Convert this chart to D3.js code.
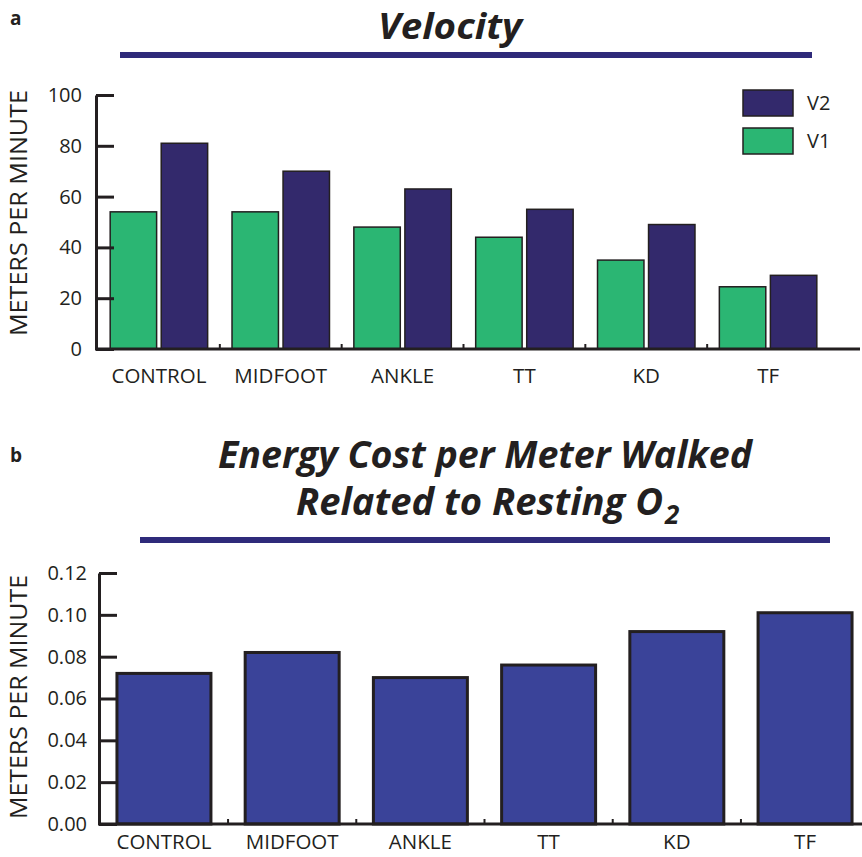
<!DOCTYPE html>
<html><head><meta charset="utf-8">
<script src="https://cdn.jsdelivr.net/npm/d3@7"></script>
<style>
body{margin:0;background:#fff}
text{font-family:"Open Sans",sans-serif;fill:#231f20}
</style>
</head><body>
<svg id="c" width="862" height="857"></svg>
<script>
const categories = ["CONTROL","MIDFOOT","ANKLE","TT","KD","TF"];
const seriesNames = ["V1","V2"];
const velocityV1 = [54,54,48,44,35,24.5];
const velocityV2 = [81,70,63,55,49,29];
const velocityTicks = [0,20,40,60,80,100];
const energyCost = [0.072,0.082,0.070,0.076,0.092,0.101];
const energyTicks = [0,0.02,0.04,0.06,0.08,0.10,0.12];
const legendOrder = ["V2","V1"];

const colors = {V1:"#2bb673", V2:"#33296c"};
const barBlue = "#3a4399";
const lineNavy = "#2f2a7a";
const ink = "#231f20";

const svg = d3.select("#c");

// ---------- Panel a ----------
const ya = d3.scaleLinear().domain([0,100]).range([349,95]);
const xa = d3.scaleBand().domain(categories).range([98,829]).paddingInner(0.2).paddingOuter(0.1);
const xaIn = d3.scaleBand().domain(seriesNames).range([0,xa.bandwidth()]).paddingInner(0.09);

svg.append("text").attr("x",10).attr("y",25).attr("font-size",19).attr("font-weight","bold").text("a");
svg.append("text").attr("x",378).attr("y",39)
  .attr("font-size",35).attr("font-weight","bold").attr("font-style","italic")
  .attr("textLength",144).attr("lengthAdjust","spacingAndGlyphs").text("Velocity");
svg.append("rect").attr("x",120).attr("y",52).attr("width",692).attr("height",6).attr("fill",lineNavy);

const ga = svg.append("g");
const rowsA = categories.map((c,i)=>({cat:c, V1:velocityV1[i], V2:velocityV2[i]}));
ga.selectAll("g.grp").data(rowsA).join("g").attr("class","grp")
  .attr("transform",d=>`translate(${xa(d.cat)},0)`)
  .selectAll("rect").data(d=>seriesNames.map(s=>({s, v:d[s]}))).join("rect")
  .attr("x",d=>xaIn(d.s)).attr("width",xaIn.bandwidth())
  .attr("y",d=>ya(d.v)).attr("height",d=>ya(0)-ya(d.v))
  .attr("fill",d=>colors[d.s]).attr("stroke",ink).attr("stroke-width",1.5);

const yAxA = ga.append("g").attr("transform","translate(96,0)")
  .call(d3.axisLeft(ya).tickValues(velocityTicks).tickSize(-18).tickSizeOuter(0).tickPadding(14).tickFormat(d3.format("d")));
yAxA.select(".domain").attr("stroke",ink).attr("stroke-width",3);
yAxA.selectAll(".tick line").attr("stroke",ink).attr("stroke-width",3);
yAxA.selectAll(".tick text").attr("font-size",20).attr("font-family","Open Sans").attr("fill",ink);
const xAxA = ga.append("g").attr("transform","translate(0,349)")
  .call(d3.axisBottom(xa).tickSize(0).tickPadding(19));
xAxA.select(".domain").remove();
xAxA.selectAll(".tick text").attr("font-size",20.5).attr("font-family","Open Sans").attr("fill",ink);
ga.append("line").attr("x1",95).attr("x2",860).attr("y1",349).attr("y2",349).attr("stroke",ink).attr("stroke-width",3);
ga.selectAll("line.sep").data(categories.slice(1)).join("line").attr("class","sep")
  .attr("x1",d=>xa(d)-xa.step()*xa.paddingInner()/2).attr("x2",d=>xa(d)-xa.step()*xa.paddingInner()/2)
  .attr("y1",349).attr("y2",344).attr("stroke",ink).attr("stroke-width",2);

svg.append("text").attr("transform","translate(27,213) rotate(-90)").attr("text-anchor","middle")
  .attr("font-size",23).attr("textLength",246).attr("lengthAdjust","spacingAndGlyphs").text("METERS PER MINUTE");

const lg = svg.append("g");
legendOrder.forEach((s,i)=>{
  lg.append("rect").attr("x",743).attr("y",90+i*38).attr("width",50).attr("height",26)
    .attr("fill",colors[s]).attr("stroke",ink).attr("stroke-width",1.5);
  lg.append("text").attr("x",807).attr("y",103+i*38).attr("dy","0.36em").attr("font-size",20).text(s);
});

// ---------- Panel b ----------
const yb = d3.scaleLinear().domain([0,0.12]).range([824,573]);
const xb = d3.scaleBand().domain(categories).range([99,870]).paddingInner(0.267).paddingOuter(0.14);

svg.append("text").attr("x",10).attr("y",462).attr("font-size",19).attr("font-weight","bold").text("b");
svg.append("text").attr("x",218).attr("y",468)
  .attr("font-size",38).attr("font-weight","bold").attr("font-style","italic")
  .attr("textLength",534).attr("lengthAdjust","spacingAndGlyphs").text("Energy Cost per Meter Walked");
const t2 = svg.append("text").attr("x",296).attr("y",515)
  .attr("font-size",38).attr("font-weight","bold").attr("font-style","italic");
t2.append("tspan").attr("textLength",367).attr("lengthAdjust","spacingAndGlyphs").text("Related to Resting O");
t2.append("tspan").attr("font-size",26).attr("dy",9).attr("dx",2).text("2");
svg.append("rect").attr("x",140).attr("y",537).attr("width",690).attr("height",6).attr("fill",lineNavy);

const gb = svg.append("g");
gb.selectAll("rect.bar").data(categories.map((c,i)=>({cat:c,v:energyCost[i]}))).join("rect").attr("class","bar")
  .attr("x",d=>xb(d.cat)).attr("width",xb.bandwidth())
  .attr("y",d=>yb(d.v)).attr("height",d=>yb(0)-yb(d.v))
  .attr("fill",barBlue).attr("stroke",ink).attr("stroke-width",3);

const yAxB = gb.append("g").attr("transform","translate(99,0)")
  .call(d3.axisLeft(yb).tickValues(energyTicks).tickSize(-18).tickSizeOuter(0).tickPadding(12).tickFormat(d3.format(".2f")));
yAxB.select(".domain").attr("stroke",ink).attr("stroke-width",3);
yAxB.selectAll(".tick line").attr("stroke",ink).attr("stroke-width",3);
yAxB.selectAll(".tick text").attr("font-size",20).attr("font-family","Open Sans").attr("fill",ink);
const xAxB = gb.append("g").attr("transform","translate(0,824)")
  .call(d3.axisBottom(xb).tickSize(0).tickPadding(10));
xAxB.select(".domain").remove();
xAxB.selectAll(".tick text").attr("font-size",20.5).attr("font-family","Open Sans").attr("fill",ink);
gb.append("line").attr("x1",98).attr("x2",862).attr("y1",824).attr("y2",824).attr("stroke",ink).attr("stroke-width",3);
gb.selectAll("line.sep").data(categories.slice(1)).join("line").attr("class","sep")
  .attr("x1",d=>xb(d)-xb.step()*xb.paddingInner()/2).attr("x2",d=>xb(d)-xb.step()*xb.paddingInner()/2)
  .attr("y1",824).attr("y2",819).attr("stroke",ink).attr("stroke-width",2);

svg.append("text").attr("transform","translate(27,697) rotate(-90)").attr("text-anchor","middle")
  .attr("font-size",23).attr("textLength",244).attr("lengthAdjust","spacingAndGlyphs").text("METERS PER MINUTE");
</script>
</body></html>
